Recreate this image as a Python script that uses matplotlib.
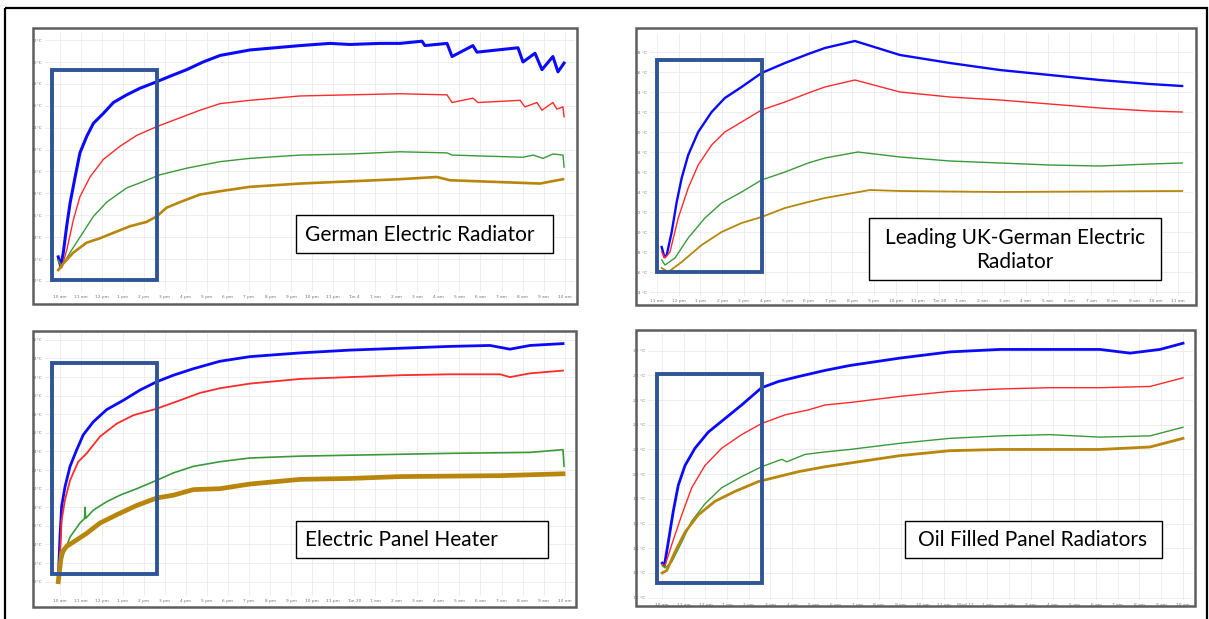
import matplotlib.pyplot as plt
from matplotlib.patches import Rectangle

W, H = 1209, 619

# ---- panel 1: German Electric Radiator (hours after 10 am, deg C) ----
ger_blue_h = [-0.06, 0.06, 0.18, 0.34, 0.50, 0.74, 0.97, 1.29, 1.61, 2.08, 2.56, 3.19, 3.82, 4.62,
              5.25, 6.04, 6.82, 7.63, 9.05, 11.43, 12.85, 13.8, 15.23, 16.18, 17.22, 17.36, 18.41,
              18.65, 19.64, 19.83, 21.78, 22.02, 22.59, 22.92, 23.44, 23.68, 23.97]
ger_blue_t = [12.2, 11.3, 12.6, 15.0, 17.1, 19.5, 21.7, 23.2, 24.4, 25.3, 26.3, 27.0, 27.6, 28.2,
              28.7, 29.3, 30.0, 30.6, 31.1, 31.5, 31.7, 31.6, 31.7, 31.7, 31.9, 31.5, 31.7,
              30.5, 31.5, 30.9, 31.3, 30.0, 30.8, 29.3, 30.5, 29.1, 29.9]
ger_red_h = [-0.06, 0.10, 0.34, 0.66, 0.97, 1.45, 2.08, 2.87, 3.67, 4.62, 5.72, 6.68, 7.63, 9.05,
             11.43, 13.8, 16.18, 18.41, 18.65, 19.64, 19.88, 21.88, 22.11, 22.68, 22.92, 23.44,
             23.63, 23.92, 23.97]
ger_red_t = [11.9, 11.2, 12.8, 15.6, 17.7, 19.5, 21.1, 22.3, 23.3, 24.1, 24.9, 25.6, 26.2, 26.5,
             26.9, 27.0, 27.1, 27.0, 26.3, 26.7, 26.3, 26.5, 25.9, 26.3, 25.6, 26.3,
             25.7, 25.9, 25.0]
ger_green_h = [-0.06, 0.10, 0.50, 0.97, 1.61, 2.24, 3.19, 4.14, 4.77, 6.04, 7.63, 9.05, 11.43,
               13.8, 16.18, 18.41, 18.65, 22.02, 22.5, 22.97, 23.44, 23.92, 23.97]
ger_green_t = [11.9, 11.3, 12.6, 14.0, 15.9, 17.2, 18.5, 19.2, 19.7, 20.3, 20.9, 21.2, 21.5,
               21.6, 21.8, 21.7, 21.5, 21.3, 21.5, 21.2, 21.6, 21.5, 20.4]
ger_gold_h = [-0.06, 0.18, 0.66, 1.29, 1.92, 2.56, 3.35, 4.14, 4.62, 5.09, 5.72, 6.68, 7.63,
              9.05, 11.43, 13.8, 16.18, 17.93, 18.55, 22.83, 23.92]
ger_gold_t = [11.0, 11.6, 12.6, 13.5, 13.9, 14.4, 15.0, 15.4, 15.9, 16.7, 17.2, 17.9, 18.2,
              18.6, 18.9, 19.1, 19.3, 19.5, 19.2, 18.9, 19.3]

# ---- panel 2: Leading UK-German Electric Radiator (hours after 11 am) ----
uk_blue_h = [0.22, 0.34, 0.45, 0.68, 0.91, 1.14, 1.44, 1.90, 2.52, 3.13, 3.90, 4.82, 5.90, 6.97,
             7.74, 9.12, 11.2, 13.5, 15.8, 18.1, 20.4, 22.7, 24.2]
uk_blue_t = [18.5, 17.5, 17.7, 20.0, 23.0, 25.4, 27.7, 30.0, 32.0, 33.4, 34.5, 35.9, 36.9, 37.8,
             38.4, 39.1, 37.7, 36.9, 36.2, 35.7, 35.2, 34.8, 34.6]
uk_red_h = [0.22, 0.37, 0.60, 0.98, 1.44, 1.90, 2.52, 3.13, 3.90, 4.82, 5.90, 6.97, 7.74, 9.12,
            11.2, 13.5, 15.8, 18.1, 20.4, 22.7, 24.2]
uk_red_t = [18.0, 17.4, 18.0, 21.4, 24.4, 26.7, 28.7, 30.0, 31.0, 32.2, 33.0, 33.9, 34.5, 35.2,
            34.0, 33.5, 33.2, 32.8, 32.4, 32.1, 32.0]
uk_green_h = [0.22, 0.37, 0.83, 1.44, 2.21, 2.98, 3.90, 4.82, 5.90, 6.97, 7.74, 9.26, 11.2, 13.5,
              15.8, 18.1, 20.4, 22.7, 24.2]
uk_green_t = [17.2, 16.7, 17.4, 19.4, 21.4, 22.9, 24.0, 25.2, 26.0, 26.9, 27.4, 28.0, 27.5, 27.1,
              26.9, 26.7, 26.6, 26.8, 26.9]
uk_gold_h = [0.22, 0.52, 1.14, 2.06, 2.98, 3.90, 4.82, 5.90, 6.97, 7.74, 9.82, 11.2, 15.8, 24.2]
uk_gold_t = [16.4, 16.0, 17.0, 18.7, 20.0, 20.9, 21.5, 22.4, 23.0, 23.4, 24.2, 24.1, 24.0, 24.1]

# ---- panel 3: Electric Panel Heater (hours after 10 am) ----
eph_blue_h = [-0.06, 0.02, 0.10, 0.26, 0.50, 0.82, 1.13, 1.61, 2.24, 3.03, 3.82, 4.62, 5.41, 6.36,
              7.62, 9.05, 11.43, 13.8, 16.18, 18.55, 20.45, 21.4, 22.35, 23.92]
eph_blue_t = [10.2, 14.8, 18.1, 20.2, 22.4, 24.2, 25.8, 27.2, 28.5, 29.5, 30.6, 31.5, 32.2, 32.9,
              33.7, 34.2, 34.6, 34.9, 35.1, 35.3, 35.4, 35.0, 35.4, 35.6]
eph_red_h = [-0.01, 0.10, 0.26, 0.50, 0.89, 1.29, 1.92, 2.72, 3.51, 4.62, 5.72, 6.68, 7.62, 9.05,
             11.43, 13.8, 16.18, 18.55, 20.93, 21.4, 22.35, 23.92]
eph_red_t = [10.9, 16.6, 18.8, 20.9, 22.9, 23.8, 25.6, 27.0, 27.9, 28.6, 29.5, 30.3, 30.8, 31.3,
             31.8, 32.0, 32.2, 32.3, 32.3, 32.0, 32.4, 32.7]
eph_green_h = [-0.01, 0.10, 0.26, 0.50, 0.97, 1.19, 1.21, 1.24, 1.61, 2.24, 2.87, 3.67, 4.62, 5.41,
               6.36, 7.62, 9.05, 11.43, 13.8, 16.18, 18.55, 22.35, 23.92, 23.97]
eph_green_t = [10.9, 12.3, 13.4, 14.8, 16.3, 16.8, 18.0, 16.8, 17.7, 18.6, 19.3, 20.0, 20.9, 21.7,
               22.4, 22.9, 23.3, 23.5, 23.6, 23.7, 23.8, 23.9, 24.2, 22.4]
eph_gold_h = [-0.06, 0.10, 0.34, 0.82, 1.29, 1.92, 2.72, 3.67, 4.62, 5.41, 6.36, 7.62, 9.05, 11.43,
              13.8, 16.18, 20.93, 23.92]
eph_gold_t = [10.0, 13.1, 13.8, 14.5, 15.2, 16.3, 17.2, 18.2, 19.0, 19.3, 19.9, 20.0, 20.5, 21.0,
              21.1, 21.3, 21.4, 21.6]

# ---- panel 4: Oil Filled Panel Radiators (hours after 10 am) ----
oil_blue_h = [0.01, 0.11, 0.29, 0.52, 0.75, 1.06, 1.52, 2.13, 2.90, 3.67, 4.59, 5.36, 6.28, 7.51,
              8.66, 10.97, 13.27, 15.58, 17.88, 20.18, 21.57, 22.95, 24.01]
oil_blue_t = [12.8, 12.6, 14.5, 17.0, 19.1, 20.7, 22.1, 23.4, 24.5, 25.6, 27.0, 27.5, 27.9, 28.4,
              28.8, 29.4, 29.9, 30.1, 30.1, 30.1, 29.8, 30.1, 30.6]
oil_red_h = [0.01, 0.14, 0.45, 0.91, 1.37, 1.98, 2.75, 3.67, 4.59, 5.67, 6.74, 7.51, 8.66, 10.97,
             13.27, 15.58, 17.88, 20.18, 22.49, 24.01]
oil_red_t = [12.7, 12.6, 14.3, 16.7, 18.9, 20.7, 22.1, 23.2, 24.1, 24.8, 25.2, 25.6, 25.8, 26.3,
             26.7, 26.9, 27.0, 27.0, 27.1, 27.8]
oil_green_h = [0.01, 0.14, 0.45, 0.91, 1.37, 1.98, 2.75, 3.67, 4.59, 5.21, 5.52, 5.75, 6.59, 7.51,
               8.66, 10.97, 13.27, 15.58, 17.88, 20.18, 22.49, 24.01]
oil_green_t = [12.6, 12.4, 12.9, 14.5, 16.2, 17.6, 18.9, 19.8, 20.6, 21.0, 21.2, 21.0, 21.6, 21.8,
               22.0, 22.5, 22.9, 23.1, 23.2, 23.0, 23.1, 23.8]
oil_gold_h = [0.01, 0.22, 0.60, 1.06, 1.67, 2.44, 3.36, 4.44, 5.36, 6.28, 7.51, 8.66, 10.97, 13.27,
              15.58, 20.18, 22.49, 24.01]
oil_gold_t = [12.0, 12.2, 13.7, 15.3, 16.7, 17.8, 18.6, 19.4, 19.8, 20.2, 20.6, 20.9, 21.5, 21.9,
              22.0, 22.0, 22.2, 22.9]

# x tick labels, one per hour
ger_xlabels = ['10 am', '11 am', '12 pm', '1 pm', '2 pm', '3 pm', '4 pm', '5 pm', '6 pm', '7 pm',
               '8 pm', '9 pm', '10 pm', '11 pm', 'Tue 4', '1 am', '2 am', '3 am', '4 am', '5 am',
               '6 am', '7 am', '8 am', '9 am', '10 am']
uk_xlabels = ['11 am', '12 pm', '1 pm', '2 pm', '3 pm', '4 pm', '5 pm', '6 pm', '7 pm', '8 pm',
              '9 pm', '10 pm', '11 pm', 'Tue 20', '1 am', '2 am', '3 am', '4 am', '5 am', '6 am',
              '7 am', '8 am', '9 am', '10 am', '11 am']
eph_xlabels = ['10 am', '11 am', '12 pm', '1 pm', '2 pm', '3 pm', '4 pm', '5 pm', '6 pm', '7 pm',
               '8 pm', '9 pm', '10 pm', '11 pm', 'Tue 20', '1 am', '2 am', '3 am', '4 am', '5 am',
               '6 am', '7 am', '8 am', '9 am', '10 am']
oil_xlabels = ['10 am', '11 am', '12 pm', '1 pm', '2 pm', '3 pm', '4 pm', '5 pm', '6 pm', '7 pm',
               '8 pm', '9 pm', '10 pm', '11 pm', 'Wed 12', '1 am', '2 am', '3 am', '4 am', '5 am',
               '6 am', '7 am', '8 am', '9 am', '10 am']

ger_yticks = list(range(10, 33, 2))
uk_yticks = list(range(14, 39, 2))
eph_yticks = list(range(10, 37, 2))
oil_yticks = list(range(10, 31, 2))

titles = ['German Electric Radiator', 'Leading UK-German Electric\nRadiator',
          'Electric Panel Heater', 'Oil Filled Panel Radiators']

# highlighted warm-up window: (start h, end h, low, high)
ger_window = (-0.37, 4.65, 10.09, 29.27)
uk_window = (-0.01, 4.85, 15.97, 37.2)
eph_window = (-0.37, 4.65, 10.83, 33.48)
oil_window = (-0.24, 4.59, 11.17, 28.09)

BLUE, RED, GREEN, GOLD = '#0a0aff', '#ff2a2a', '#3a9a3a', '#b8860b'
BOX = '#2f5597'

fig = plt.figure(figsize=(W / 100, H / 100), dpi=100)


def px_axes(x0, y0, x1, y1):
    return fig.add_axes([x0 / W, 1 - y1 / H, (x1 - x0) / W, (y1 - y0) / H])


def draw_panel(rect, xlim, ylim, series, xlabels, yticks, space, window, widths):
    ax = px_axes(*rect)
    for (hh, tt), col, lw in zip(series, [BLUE, RED, GREEN, GOLD], widths):
        ax.plot(hh, tt, color=col, lw=lw, solid_joinstyle='round')
    ax.set_xlim(*xlim)
    ax.set_ylim(*ylim)
    ax.set_xticks(range(len(xlabels)))
    ax.set_xticklabels(xlabels)
    ax.set_yticks(yticks)
    ax.set_yticklabels([f'{v}{space}°C' for v in yticks])
    ax.tick_params(length=0, labelsize=3.2, colors='#777777', pad=2)
    ax.grid(color='#ebebeb', lw=0.6)
    ax.set_axisbelow(True)
    for s in ax.spines.values():
        s.set_visible(False)
    x0, x1, lo, hi = window
    ax.add_patch(Rectangle((x0, lo), x1 - x0, hi - lo, fill=False, ec=BOX, lw=2.8,
                           clip_on=False, zorder=5))
    return ax


draw_panel((45, 32, 575, 292), (-0.69, 24.49), (8.995, 32.74),
           [(ger_blue_h, ger_blue_t), (ger_red_h, ger_red_t), (ger_green_h, ger_green_t),
            (ger_gold_h, ger_gold_t)], ger_xlabels, ger_yticks, '', ger_window,
           [2.2, 1.0, 1.0, 1.9])
draw_panel((650, 33, 1193, 296), (-0.32, 24.70), (13.6, 39.9),
           [(uk_blue_h, uk_blue_t), (uk_red_h, uk_red_t), (uk_green_h, uk_green_t),
            (uk_gold_h, uk_gold_t)], uk_xlabels, uk_yticks, ' ', uk_window,
           [1.7, 1.0, 1.0, 1.3])
draw_panel((45, 333, 575, 596), (-0.69, 24.49), (8.46, 36.74),
           [(eph_blue_h, eph_blue_t), (eph_red_h, eph_red_t), (eph_green_h, eph_green_t),
            (eph_gold_h, eph_gold_t)], eph_xlabels, eph_yticks, '', eph_window,
           [2.0, 1.3, 1.2, 3.4])
draw_panel((648, 333, 1193, 600), (-0.645, 24.47), (9.81, 31.43),
           [(oil_blue_h, oil_blue_t), (oil_red_h, oil_red_t), (oil_green_h, oil_green_t),
            (oil_gold_h, oil_gold_t)], oil_xlabels, oil_yticks, ' ', oil_window,
           [2.0, 1.0, 1.0, 2.0])

# overlay in pixel coordinates for the frames and captions
ov = fig.add_axes([0, 0, 1, 1])
ov.set_xlim(0, W)
ov.set_ylim(H, 0)
ov.axis('off')
ov.set_zorder(10)

ov.add_patch(Rectangle((5, 8), 1202, 640, fill=False, ec='black', lw=1.6, clip_on=False))
for (x0, y0, x1, y1) in [(33, 28, 577, 304), (636, 28, 1196, 305),
                         (33, 331, 576, 607), (636, 330, 1195, 606)]:
    ov.add_patch(Rectangle((x0, y0), x1 - x0, y1 - y0, fill=False, ec='#5e5e5e', lw=1.8))

caps = [((296, 215, 553, 253), 305, 'left'), ((869, 218, 1161, 280), 1015, 'center'),
        ((296, 521, 548, 558), 305, 'left'), ((905, 521, 1162, 558), 1033, 'center')]
for ((x0, y0, x1, y1), tx, ha), title in zip(caps, titles):
    ov.add_patch(Rectangle((x0, y0), x1 - x0, y1 - y0, fc='white', ec='black', lw=1.0))
    ov.text(tx, (y0 + y1) / 2 + 1, title, ha=ha, va='center', fontsize=15,
            family='Lato', color='black', linespacing=1.3)

fig.savefig('out.png', dpi=100)
